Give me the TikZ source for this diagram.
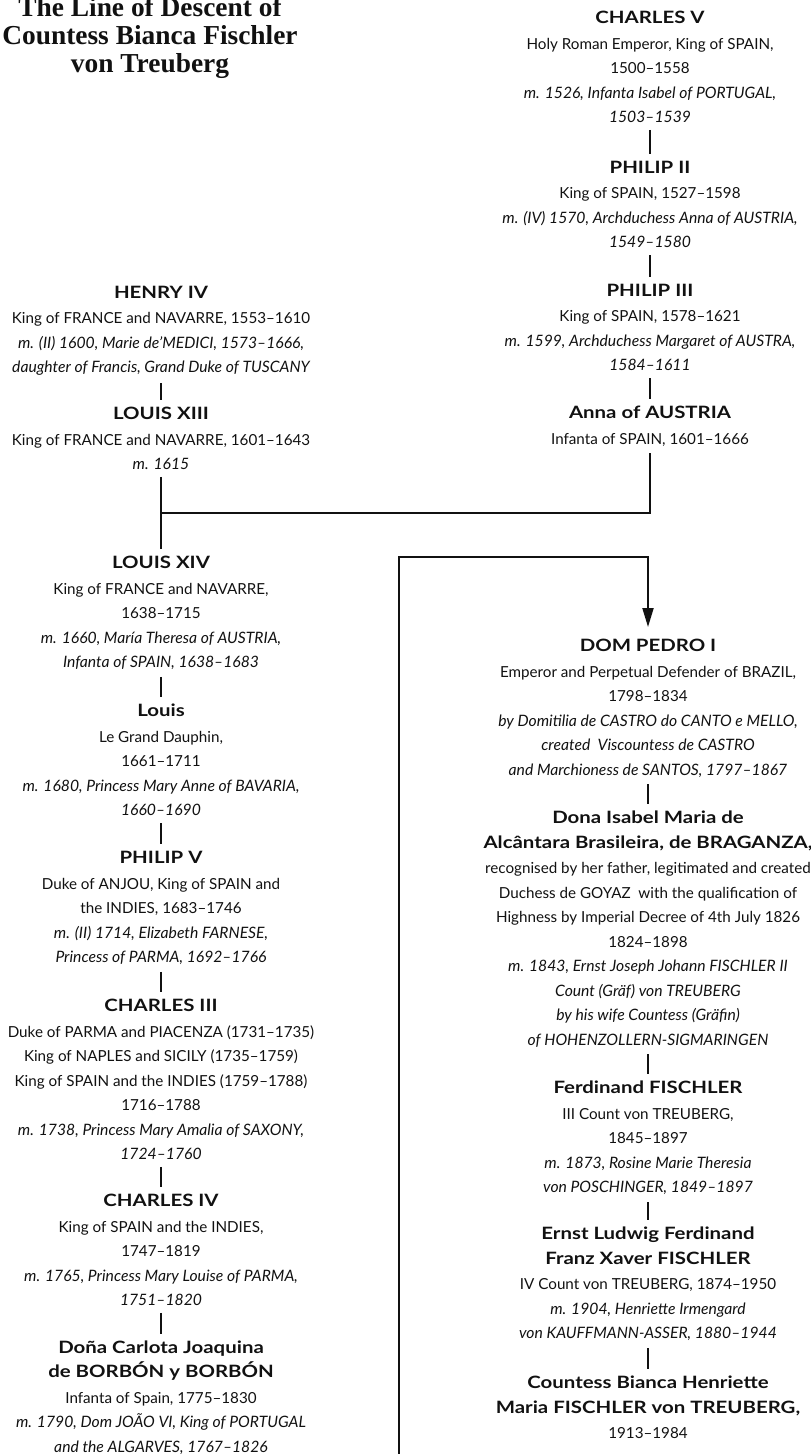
\documentclass[tikz,border=0pt]{standalone}
\usepackage{fontspec}
\setmainfont{Lato}
\newfontfamily\titlefont{Liberation Serif}
\newfontfamily\namefont{Lato}[FakeStretch=1.2]
\usetikzlibrary{arrows.meta}
\definecolor{TreeInk}{HTML}{111111}
\newcommand{\heirname}[1]{{\namefont\fontsize{17}{24.5}\selectfont\bfseries #1}}
\newcommand{\marriage}[1]{{\fontsize{15.7}{24.5}\selectfont\itshape #1}}
\tikzset{
  every node/.style={text=TreeInk},
  person/.style={align=center, inner sep=0pt, anchor=north, font=\fontsize{15.2}{24.5}\selectfont},
  lineage/.style={draw=TreeInk, line width=2.2pt, shorten <=7pt, shorten >=7pt},
  descent/.style={-{Triangle[length=19pt,width=11pt]}, draw=TreeInk, line width=2pt, shorten >=12pt},
}
\begin{document}
\begin{tikzpicture}[x=1pt,y=-1pt]
  \useasboundingbox (0,0) rectangle (811,1454);
  % Title
  \node[anchor=north, align=center, inner sep=0pt, font=\titlefont\bfseries\fontsize{27.4}{28}\selectfont] (title) at (150,-3) {The Line of Descent of\\Countess Bianca Fischler\\von Treuberg};
  % Spanish line (right, top)
  \node[person] (charles5) at (650,11) {\heirname{CHARLES V}\\[1pt]Holy Roman Emperor, King of SPAIN,\\1500--1558\\\marriage{m. 1526, Infanta Isabel of PORTUGAL,}\\\marriage{1503--1539}};
  \node[person] (philip2) at (650,161) {\heirname{PHILIP II}\\[1pt]King of SPAIN, 1527--1598\\\marriage{m. (IV) 1570, Archduchess Anna of AUSTRIA,}\\\marriage{1549--1580}};
  \node[person] (philip3) at (650,284) {\heirname{PHILIP III}\\[1pt]King of SPAIN, 1578--1621\\\marriage{m. 1599, Archduchess Margaret of AUSTRA,}\\\marriage{1584--1611}};
  \node[person] (anna) at (650,406) {\heirname{Anna of AUSTRIA}\\[1pt]Infanta of SPAIN, 1601--1666};
  % French and Spanish Bourbons (left)
  \node[person] (henry4) at (161,286) {\heirname{HENRY IV}\\[1pt]King of FRANCE and NAVARRE, 1553--1610\\\marriage{m. (II) 1600, Marie de'MEDICI, 1573--1666,}\\\marriage{daughter of Francis, Grand Duke of TUSCANY}};
  \node[person] (louis13) at (161,407) {\heirname{LOUIS XIII}\\[1pt]King of FRANCE and NAVARRE, 1601--1643\\\marriage{m. 1615}};
  \node[person] (louis14) at (161,556) {\heirname{LOUIS XIV}\\[1pt]King of FRANCE and NAVARRE,\\1638--1715\\\marriage{m. 1660, María Theresa of AUSTRIA,}\\\marriage{Infanta of SPAIN, 1638--1683}};
  \node[person] (dauphin) at (161,704) {\heirname{Louis}\\[1pt]Le Grand Dauphin,\\1661--1711\\\marriage{m. 1680, Princess Mary Anne of BAVARIA,}\\\marriage{1660--1690}};
  \node[person] (philip5) at (161,851) {\heirname{PHILIP V}\\[1pt]Duke of ANJOU, King of SPAIN and\\the INDIES, 1683--1746\\\marriage{m. (II) 1714, Elizabeth FARNESE,}\\\marriage{Princess of PARMA, 1692--1766}};
  \node[person] (charles3) at (161,999) {\heirname{CHARLES III}\\[1pt]Duke of PARMA and PIACENZA (1731--1735)\\King of NAPLES and SICILY (1735--1759)\\King of SPAIN and the INDIES (1759--1788)\\1716--1788\\\marriage{m. 1738, Princess Mary Amalia of SAXONY,}\\\marriage{1724--1760}};
  \node[person] (charles4) at (161,1194) {\heirname{CHARLES IV}\\[1pt]King of SPAIN and the INDIES,\\1747--1819\\\marriage{m. 1765, Princess Mary Louise of PARMA,}\\\marriage{1751--1820}};
  \node[person] (carlota) at (161,1340.5) {\heirname{Doña Carlota Joaquina}\\\heirname{de BORBÓN y BORBÓN}\\[1pt]Infanta of Spain, 1775--1830\\\marriage{m. 1790, Dom JOÃO VI, King of PORTUGAL}\\\marriage{and the ALGARVES, 1767--1826}};
  % Brazilian line (right, bottom)
  \node[person] (pedro) at (648,639) {\heirname{DOM PEDRO I}\\[1pt]Emperor and Perpetual Defender of BRAZIL,\\1798--1834\\\marriage{by Domitilia de CASTRO do CANTO e MELLO,}\\\marriage{created\ \ Viscountess de CASTRO}\\\marriage{and Marchioness de SANTOS, 1797--1867}};
  \node[person] (isabel) at (648,811) {\heirname{Dona Isabel Maria de}\\\heirname{Alcântara Brasileira, de BRAGANZA,}\\[1pt]recognised by her father, legitimated and created\\Duchess de GOYAZ\ \ with the qualification of\\Highness by Imperial Decree of 4th July 1826\\1824--1898\\\marriage{m. 1843, Ernst Joseph Johann FISCHLER II}\\\marriage{Count (Gräf) von TREUBERG}\\\marriage{by his wife Countess (Gräfin)}\\\marriage{of HOHENZOLLERN-SIGMARINGEN}};
  \node[person] (ferdinand) at (648,1081) {\heirname{Ferdinand FISCHLER}\\[1pt]III Count von TREUBERG,\\1845--1897\\\marriage{m. 1873, Rosine Marie Theresia}\\\marriage{von POSCHINGER, 1849--1897}};
  \node[person] (ernst) at (648,1227) {\heirname{Ernst Ludwig Ferdinand}\\\heirname{Franz Xaver FISCHLER}\\[1pt]IV Count von TREUBERG, 1874--1950\\\marriage{m. 1904, Henriette Irmengard}\\\marriage{von KAUFFMANN-ASSER, 1880--1944}};
  \node[person] (bianca) at (648,1376) {\heirname{Countess Bianca Henriette}\\\heirname{Maria FISCHLER von TREUBERG,}\\[1pt]1913--1984};
  % Connectors
  \draw[lineage] (charles5.south) -- (philip2.north);
  \draw[lineage] (philip2.south) -- (philip3.north);
  \draw[lineage] (philip3.south) -- (anna.north);
  \draw[lineage] (henry4.south) -- (louis13.north);
  \draw[lineage] (louis13.south) -- (louis14.north);
  \coordinate (wedding) at (161,513);
  \draw[lineage, shorten >=0pt] (anna.south) |- (wedding);
  \draw[lineage] (louis14.south) -- (dauphin.north);
  \draw[lineage] (dauphin.south) -- (philip5.north);
  \draw[lineage] (philip5.south) -- (charles3.north);
  \draw[lineage] (charles3.south) -- (charles4.north);
  \draw[lineage] (charles4.south) -- (carlota.north);
  \draw[lineage] (pedro.south) -- (isabel.north);
  \draw[lineage] (isabel.south) -- (ferdinand.north);
  \draw[lineage] (ferdinand.south) -- (ernst.north);
  \draw[lineage] (ernst.south) -- (bianca.north);
  % Carlota's son carried over to the Brazilian line
  \coordinate (carlotaexit) at (399,1454);
  \coordinate (frameturn) at (399,557);
  \draw[descent] (carlotaexit) -- (frameturn) -| (pedro.north);
\end{tikzpicture}
\end{document}
